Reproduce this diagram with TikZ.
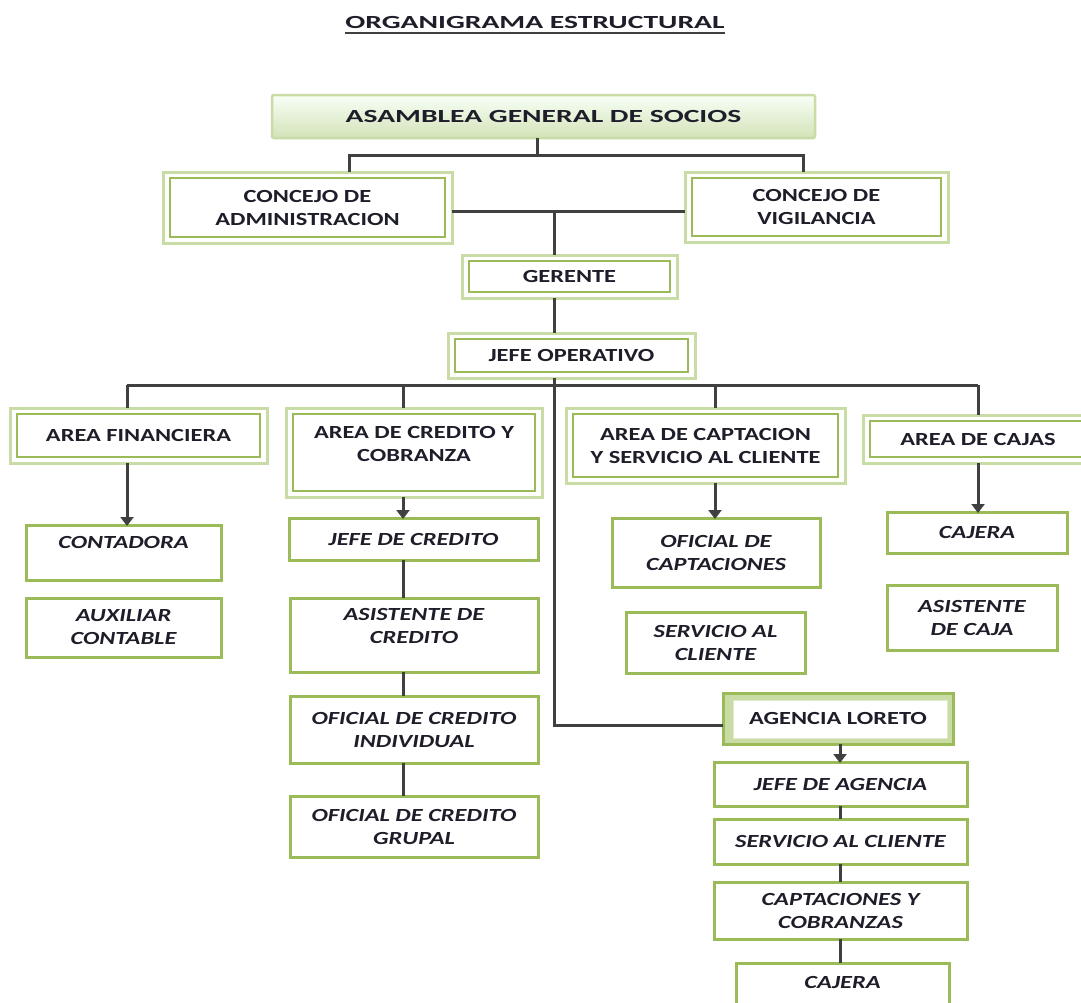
\documentclass[tikz,border=0pt]{standalone}
\usepackage{fontspec}
\setmainfont{Carlito}[FakeStretch=1.32]
\newfontfamily\bigfont{Carlito}[FakeStretch=1.6]
\usetikzlibrary{arrows.meta}
\definecolor{grn}{HTML}{9BBB59}
\definecolor{lgrn}{HTML}{C9DCA6}
\definecolor{lnc}{HTML}{404040}
\definecolor{txtc}{HTML}{1E1E2A}
\newcommand{\fs}{\fontsize{18.5}{23}\selectfont}
\tikzset{
  base/.style={inner sep=0pt, outer sep=0pt, align=center, text=txtc, font=\fs\bfseries},
  itl/.style={base, font=\fs\bfseries\itshape},
  box/.style={itl, draw=grn, line width=3pt, fill=white},
  dbox/.style={base, draw=lgrn, line width=3pt, fill=white,
    path picture={\draw[grn, line width=2.5pt]
      ([shift={(7pt,-6pt)}]path picture bounding box.north west) rectangle
      ([shift={(-7pt,6pt)}]path picture bounding box.south east);}},
  agbox/.style={base, draw=grn, line width=3pt, fill=lgrn,
    path picture={\draw[lgrn!60!white, line width=1pt, fill=white]
      ([shift={(10pt,-7pt)}]path picture bounding box.north west) rectangle
      ([shift={(-6pt,6pt)}]path picture bounding box.south east);}},
  topbox/.style={base, font=\bigfont\fs\bfseries, draw=lgrn, line width=2.5pt, rounded corners=2pt,
    top color=green!3!white, bottom color=lgrn!80!white},
  conn/.style={draw=lnc, line width=3pt},
  arr/.style={conn, -{Triangle[length=9pt,width=13pt]}, shorten >=-1pt},
}
\begin{document}
\begin{tikzpicture}[x=1pt, y=-1pt]
\clip (0,0) rectangle (1081,1002);
\fill[white] (0,0) rectangle (1081,1002);

% title
\node[base, font=\bigfont\fs\bfseries] (title) at (535,22) {ORGANIGRAMA ESTRUCTURAL};
\draw[lnc, line width=2.4pt] ([yshift=-5pt]title.base west) -- ([yshift=-5pt]title.base east);

% top levels
\node[topbox, minimum width=543pt, minimum height=43pt] (asamblea) at (543.5,116.5) {ASAMBLEA GENERAL DE SOCIOS};
\node[dbox, minimum width=289pt, minimum height=71pt] (cadm) at (307.5,207.5) {CONCEJO DE\\ADMINISTRACION};
\node[dbox, minimum width=263pt, minimum height=70pt] (cvig) at (816.5,207) {CONCEJO DE\\VIGILANCIA};
\node[dbox, minimum width=215pt, minimum height=43pt] (gerente) at (569.5,276.5) {GERENTE};
\node[dbox, minimum width=247pt, minimum height=45pt] (jefeop) at (571.5,355.5) {JEFE OPERATIVO};

% areas
\node[dbox, minimum width=257pt, minimum height=55pt] (afin) at (138.5,435.5) {AREA FINANCIERA};
\node[dbox, minimum width=256pt, minimum height=89pt,
  label={[base, yshift=9pt]center:AREA DE CREDITO Y\\COBRANZA}] (acred) at (414,452.5) {};
\node[dbox, minimum width=279pt, minimum height=75pt] (acapt) at (705.5,445.5) {AREA DE CAPTACION\\Y SERVICIO AL CLIENTE};
\node[dbox, minimum width=230pt, minimum height=48pt] (acaj) at (978,439) {AREA DE CAJAS};

% area financiera
\node[box, minimum width=195pt, minimum height=55pt,
  label={[itl, yshift=10pt]center:CONTADORA}] (contadora) at (123.5,552.5) {};
\node[box, minimum width=195pt, minimum height=59pt] (auxiliar) at (123.5,627.5) {AUXILIAR\\CONTABLE};

% credito
\node[box, minimum width=249pt, minimum height=42pt] (jcred) at (413.5,539) {JEFE DE CREDITO};
\node[box, minimum width=248pt, minimum height=74pt,
  label={[itl, yshift=9pt]center:ASISTENTE DE\\CREDITO}] (asiscred) at (414,635) {};
\node[box, minimum width=248pt, minimum height=67pt] (ofind) at (414,729.5) {OFICIAL DE CREDITO\\INDIVIDUAL};
\node[box, minimum width=248pt, minimum height=61pt] (ofgru) at (414,826.5) {OFICIAL DE CREDITO\\GRUPAL};

% captacion
\node[box, minimum width=208pt, minimum height=69pt] (ofcapt) at (716,552.5) {OFICIAL DE\\CAPTACIONES};
\node[box, minimum width=179pt, minimum height=61pt] (servcli) at (715.5,642.5) {SERVICIO AL\\CLIENTE};

% cajas
\node[box, minimum width=180pt, minimum height=41pt] (cajera) at (977,532.5) {CAJERA};
\node[box, minimum width=170pt, minimum height=65pt] (asiscaja) at (972,617.5) {ASISTENTE\\DE CAJA};

% agencia
\node[agbox, minimum width=230pt, minimum height=51pt] (agencia) at (838,718.5) {AGENCIA LORETO};
\node[box, minimum width=253pt, minimum height=44pt] (jefeag) at (840.5,784) {JEFE DE AGENCIA};
\node[box, minimum width=253pt, minimum height=45pt] (servag) at (840.5,841.5) {SERVICIO AL CLIENTE};
\node[box, minimum width=253pt, minimum height=57pt] (captcob) at (840.5,910.5) {CAPTACIONES Y\\COBRANZAS};
\node[box, minimum width=213pt, minimum height=57pt,
  label={[itl, yshift=9pt]center:CAJERA}] (cajag) at (842.5,991.5) {};

% guide coordinates
\coordinate (b1) at (537,155);
\coordinate (b1l) at (349,155);
\coordinate (b1r) at (803,155);
\coordinate (j1) at (554,211);
\coordinate (b2) at (554,385);
\coordinate (xA) at (127,385);
\coordinate (xB) at (403,385);
\coordinate (xC) at (715,385);
\coordinate (xD) at (978,385);
\coordinate (t) at (554,725);
\coordinate (xE) at (840,725);

% connectors
\draw[conn] (asamblea.south -| b1) -- (b1);
\draw[conn] (cadm.north -| b1l) -- (b1l) -- (b1r) -- (cvig.north -| b1r);
\draw[conn] (cadm.east |- j1) -- (cvig.west |- j1);
\draw[conn] (j1) -- (gerente.north -| j1);
\draw[conn] (gerente.south -| j1) -- (jefeop.north -| j1);
\draw[conn] (jefeop.south -| b2) -- (b2);
\draw[conn] (xA) -- (xD);
\draw[conn] (xA) -- (afin.north -| xA);
\draw[conn] (xB) -- (acred.north -| xB);
\draw[conn] (xC) -- (acapt.north -| xC);
\draw[conn] (xD) -- (acaj.north -| xD);
\draw[conn] (b2) -- (t) -- (t -| agencia.west);

\draw[arr] (afin.south -| xA) -- (contadora.north -| xA);
\draw[arr] (acred.south -| xB) -- (jcred.north -| xB);
\draw[arr] (acapt.south -| xC) -- (ofcapt.north -| xC);
\draw[arr] (acaj.south -| xD) -- (cajera.north -| xD);

\draw[conn] (jcred.south -| xB) -- (asiscred.north -| xB);
\draw[conn] (asiscred.south -| xB) -- (ofind.north -| xB);
\draw[conn] (ofind.south -| xB) -- (ofgru.north -| xB);

\draw[arr] (agencia.south -| xE) -- (jefeag.north -| xE);
\draw[conn] (jefeag.south -| xE) -- (servag.north -| xE);
\draw[conn] (servag.south -| xE) -- (captcob.north -| xE);
\draw[conn] (captcob.south -| xE) -- (cajag.north -| xE);
\end{tikzpicture}
\end{document}
